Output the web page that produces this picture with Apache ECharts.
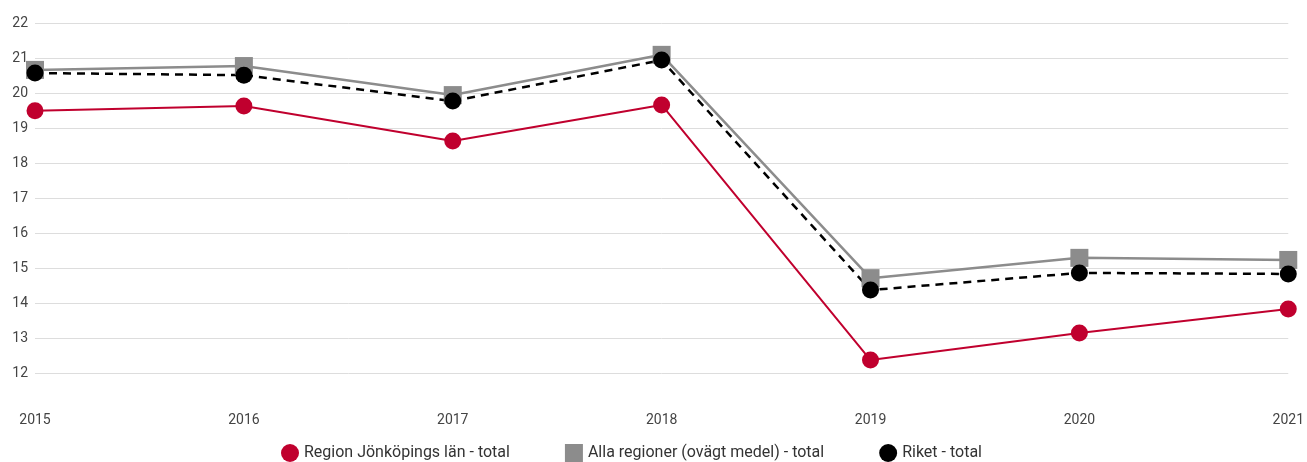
<!DOCTYPE html>
<html>
<head>
<meta charset="utf-8">
<script src="https://cdn.jsdelivr.net/npm/echarts@6/dist/echarts.min.js"></script>
<style>
  html, body { margin: 0; padding: 0; background: #fff; }
  #main { width: 1307px; height: 462px; }
</style>
</head>
<body>
<div id="main"></div>
<script>
// data
var years = ['2015', '2016', '2017', '2018', '2019', '2020', '2021'];
var jonkoping = [19.49, 19.63, 18.63, 19.66, 12.37, 13.14, 13.83];
var allaRegioner = [20.66, 20.77, 19.94, 21.09, 14.71, 15.29, 15.23];
var riket = [20.57, 20.51, 19.77, 20.94, 14.37, 14.86, 14.83];

var chart = echarts.init(document.getElementById('main'));

var option = {
  animation: false,
  textStyle: { fontFamily: 'Roboto' },
  grid: { left: 35, right: 17, top: 23, bottom: 89 },
  legend: {
    bottom: 0,
    left: 281,
    padding: 0,
    itemGap: 55,
    itemWidth: 18,
    itemHeight: 18,
    textStyle: { fontSize: 16, color: '#333' },
    data: [
      { name: 'Region Jönköpings län - total', icon: 'circle' },
      { name: 'Alla regioner (ovägt medel) - total', icon: 'rect' },
      { name: 'Riket - total', icon: 'circle' }
    ]
  },
  xAxis: {
    type: 'category',
    data: years,
    boundaryGap: false,
    axisLine: { show: false },
    axisTick: { show: false },
    axisLabel: { color: '#444', fontSize: 14, margin: 40 }
  },
  yAxis: {
    type: 'value',
    min: 12,
    max: 22,
    interval: 1,
    axisLine: { show: false },
    axisTick: { show: false },
    axisLabel: { color: '#444', fontSize: 14, margin: 7 },
    splitLine: { lineStyle: { color: '#ddd' } }
  },
  series: [
    {
      name: 'Alla regioner (ovägt medel) - total',
      type: 'line',
      data: allaRegioner,
      symbol: 'rect',
      symbolSize: 18,
      itemStyle: { color: '#8c8c8c' },
      lineStyle: { width: 2.5, color: '#8c8c8c' }
    },
    {
      name: 'Riket - total',
      type: 'line',
      data: riket,
      symbol: 'circle',
      symbolSize: 17,
      itemStyle: { color: '#000' },
      lineStyle: { width: 2.5, color: '#000', type: [8, 6] }
    },
    {
      name: 'Region Jönköpings län - total',
      type: 'line',
      data: jonkoping,
      symbol: 'circle',
      symbolSize: 17,
      itemStyle: { color: '#c0002e' },
      lineStyle: { width: 2, color: '#c0002e' }
    }
  ]
};

chart.setOption(option);
</script>
</body>
</html>
